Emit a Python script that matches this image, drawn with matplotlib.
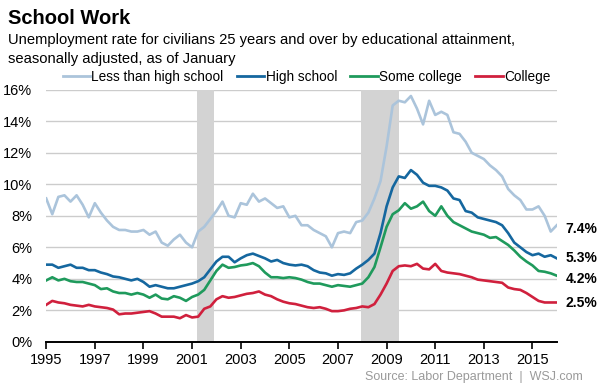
import numpy as np
import matplotlib
matplotlib.use("Agg")
import matplotlib.pyplot as plt
from matplotlib.lines import Line2D

plt.rcParams['font.family'] = ['Liberation Sans', 'DejaVu Sans']

# Quarterly readings, 1995.00 .. 2016.00
start_year = 1995.0
less_than_hs = [
    9.1, 8.1, 9.2, 9.3, 8.9, 9.3, 8.7, 7.9, 8.8, 8.2, 7.7, 7.3,
    7.1, 7.1, 7.0, 7.0, 7.1, 6.8, 7.0, 6.3, 6.1, 6.5, 6.8, 6.3,
    6.0, 7.0, 7.3, 7.8, 8.3, 8.9, 8.0, 7.9, 8.8, 8.7, 9.4, 8.9,
    9.1, 8.8, 8.5, 8.6, 7.9, 8.0, 7.4, 7.4, 7.1, 6.9, 6.7, 6.0,
    6.9, 7.0, 6.9, 7.6, 7.7, 8.2, 9.1, 10.2, 12.4, 15.0, 15.3, 15.2,
    15.6, 14.8, 13.8, 15.3, 14.4, 14.6, 14.4, 13.3, 13.2, 12.7, 12.0, 11.8,
    11.6, 11.2, 10.9, 10.5, 9.7, 9.3, 9.0, 8.4, 8.4, 8.6, 8.0, 7.0, 7.4]
high_school = [
    4.9, 4.9, 4.7, 4.8, 4.9, 4.7, 4.7, 4.55, 4.55, 4.4, 4.3, 4.15,
    4.1, 4.0, 3.9, 4.0, 3.8, 3.5, 3.6, 3.5, 3.4, 3.4, 3.5, 3.6,
    3.7, 3.85, 4.1, 4.6, 5.1, 5.4, 5.4, 5.05, 5.3, 5.5, 5.6, 5.45,
    5.3, 5.1, 5.2, 5.0, 4.9, 4.85, 4.9, 4.8, 4.55, 4.4, 4.35, 4.2,
    4.3, 4.25, 4.35, 4.65, 4.9, 5.2, 5.6, 6.9, 8.6, 9.8, 10.5, 10.4,
    10.9, 10.6, 10.1, 9.9, 9.9, 9.8, 9.6, 9.1, 9.0, 8.3, 8.2, 7.9,
    7.8, 7.7, 7.6, 7.4, 6.9, 6.3, 6.0, 5.7, 5.5, 5.6, 5.4, 5.5, 5.3]
some_college = [
    3.9, 4.1, 3.9, 4.0, 3.85, 3.8, 3.8, 3.7, 3.6, 3.35, 3.4, 3.2,
    3.1, 3.1, 3.0, 3.1, 3.0, 2.8, 3.0, 2.75, 2.7, 2.9, 2.8, 2.6,
    2.85, 3.0, 3.3, 3.9, 4.5, 4.9, 4.7, 4.75, 4.85, 4.9, 5.0, 4.8,
    4.4, 4.1, 4.1, 4.05, 4.1, 4.05, 3.95, 3.8, 3.7, 3.7, 3.6, 3.5,
    3.6, 3.55, 3.5, 3.6, 3.7, 4.1, 4.75, 6.0, 7.3, 8.1, 8.35, 8.8,
    8.45, 8.6, 8.9, 8.3, 8.0, 8.6, 8.0, 7.6, 7.4, 7.2, 7.0, 6.9,
    6.8, 6.6, 6.65, 6.4, 6.15, 5.8, 5.4, 5.1, 4.85, 4.5, 4.45, 4.35, 4.2]
college = [
    2.35, 2.6, 2.5, 2.45, 2.35, 2.3, 2.25, 2.35, 2.25, 2.2, 2.15, 2.05,
    1.75, 1.8, 1.8, 1.85, 1.9, 1.95, 1.8, 1.6, 1.6, 1.6, 1.5, 1.7,
    1.55, 1.6, 2.1, 2.25, 2.7, 2.9, 2.8, 2.85, 2.95, 3.05, 3.1, 3.2,
    3.0, 2.9, 2.7, 2.55, 2.45, 2.4, 2.3, 2.2, 2.15, 2.2, 2.1, 1.95,
    1.95, 2.0, 2.1, 2.15, 2.25, 2.2, 2.4, 3.0, 3.7, 4.5, 4.8, 4.85,
    4.8, 4.95, 4.65, 4.6, 4.95, 4.5, 4.4, 4.35, 4.3, 4.2, 4.1, 3.95,
    3.9, 3.85, 3.8, 3.75, 3.45, 3.35, 3.3, 3.1, 2.85, 2.6, 2.5, 2.5, 2.5]

series_names = ["Less than high school", "High school", "Some college", "College"]
series_colors = ["#abc4db", "#15679f", "#1f9a5c", "#d0203d"]
end_labels = ["7.4%", "5.3%", "4.2%", "2.5%"]
end_label_y = [7.15, 5.3, 4.0, 2.45]
recessions = [(2001.2, 2001.9), (2007.95, 2009.5)]
x_ticks = [1995, 1997, 1999, 2001, 2003, 2005, 2007, 2009, 2011, 2013, 2015]
y_ticks = [0, 2, 4, 6, 8, 10, 12, 14, 16]

t = start_year + 0.25 * np.arange(len(less_than_hs))

fig = plt.figure(figsize=(6.0, 3.85), dpi=100)
ax = fig.add_axes([0.077, 0.112, 0.851, 0.655])

for a, b in recessions:
    ax.axvspan(a, b, color="#d3d3d3", lw=0, zorder=1)

for y in y_ticks[1:]:
    ax.axhline(y, color="#cccccc", lw=1.0, zorder=0)

all_series = [less_than_hs, high_school, some_college, college]
for vals, col, name in zip(all_series, series_colors, series_names):
    ax.plot(t, vals, color=col, lw=1.9, label=name, zorder=3, solid_joinstyle='round')

ax.set_xlim(1995, 2016)
ax.set_ylim(0, 16)
ax.set_xticks(x_ticks)
ax.set_xticklabels([str(x) for x in x_ticks], fontsize=10.5)
ax.set_yticks(y_ticks)
ax.set_yticklabels([f"{y}%" for y in y_ticks], fontsize=10.5)
ax.tick_params(axis='y', length=0, pad=10)
ax.tick_params(axis='x', length=5, width=1.2, direction='out', pad=3, color='black')
for s in ['top', 'right', 'left']:
    ax.spines[s].set_visible(False)
ax.spines['bottom'].set_linewidth(1.4)
ax.spines['bottom'].set_zorder(4)

for lab, yv in zip(end_labels, end_label_y):
    ax.text(2016.35, yv, lab, fontsize=10, fontweight='bold', va='center', ha='left',
            clip_on=False)

handles = [Line2D([0], [0], color=c, lw=2) for c in series_colors]
fig.legend(handles, series_names, loc='center left', bbox_to_anchor=(0.093, 0.80),
           ncol=4, frameon=False, fontsize=9.8, handlelength=2.0, handletextpad=0.1,
           columnspacing=1.0, borderpad=0)

fig.text(0.013, 0.953, "School Work", fontsize=14.5, fontweight='bold', va='center')
fig.text(0.013, 0.895, "Unemployment rate for civilians 25 years and over by educational attainment,",
         fontsize=10.6, va='center')
fig.text(0.013, 0.848, "seasonally adjusted, as of January", fontsize=10.6, va='center')
fig.text(0.972, 0.022, "Source: Labor Department  |  WSJ.com", fontsize=9, color="#9a9a9a",
         ha='right', va='center')

fig.savefig("out.png", dpi=100)
